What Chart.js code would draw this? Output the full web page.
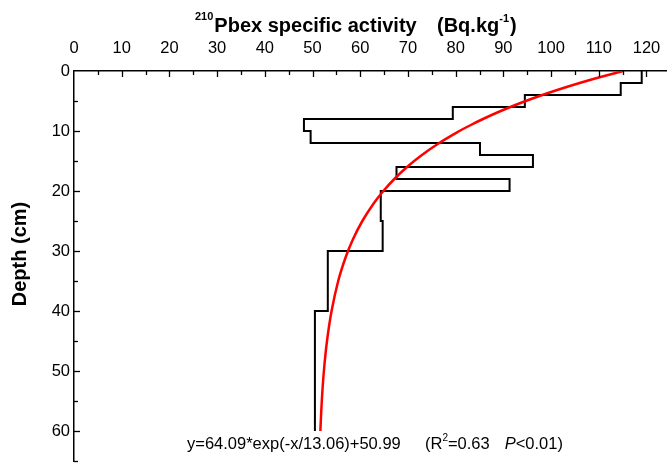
<!DOCTYPE html>
<html>
<head>
<meta charset="utf-8">
<script src="https://cdn.jsdelivr.net/npm/chart.js@4.4.1/dist/chart.umd.min.js"></script>
<style>
html, body { margin: 0; padding: 0; background: #fff; }
#wrap { width: 667px; height: 466px; }
</style>
</head>
<body>
<div id="wrap"><canvas id="chart" width="667" height="466"></canvas></div>
<script>
// layer boundaries (cm) and measured activity of each layer (Bq/kg)
const layerDepths = [0, 2, 4, 6, 8, 10, 12, 14, 16, 18, 20, 25, 30, 40, 60];
const layerActivity = [119.0, 114.6, 94.5, 79.4, 48.2, 49.6, 85.1, 96.2, 67.6, 91.3, 64.3, 64.7, 53.2, 50.5];

// fitted curve, points
const fitDepths = [0, 1, 2, 3, 4, 5, 6, 7, 8, 9, 10, 12, 14, 16, 18, 20, 22, 25, 28, 31, 35, 40, 45, 50, 55, 60];
const fitActivity = [115.08, 110.36, 105.98, 101.93, 98.17, 94.69, 91.47, 88.49, 85.73, 83.17, 80.79, 76.56, 72.93,
    69.81, 67.14, 64.85, 62.88, 60.44, 58.50, 56.96, 55.38, 53.99, 53.03, 52.38, 51.94, 51.64];

// labelled ticks
const xTickLabels = [0, 10, 20, 30, 40, 50, 60, 70, 80, 90, 100, 110, 120];
const yTickLabels = [0, 10, 20, 30, 40, 50, 60];

const FONT = "'Liberation Sans', Arial, sans-serif";

// step profile: each layer is a vertical segment from its top to its bottom
const stepPoints = [];
layerActivity.forEach((v, i) => {
    stepPoints.push({x: v, y: layerDepths[i]});
    stepPoints.push({x: v, y: layerDepths[i + 1]});
});
const fitPoints = fitDepths.map((d, i) => ({x: fitActivity[i], y: d}));

// tick marks point into the plot, long for labelled ones
const innerTicks = {
    id: 'innerTicks',
    afterDraw(chart) {
        const {ctx, chartArea, scales: {x, y}} = chart;
        ctx.save();
        ctx.strokeStyle = '#000';
        ctx.lineWidth = 1.3;
        x.ticks.forEach(t => {
            if (t.value === 0) return;
            const px = Math.round(x.getPixelForValue(t.value)) + 0.5;
            const len = xTickLabels.includes(t.value) ? 6 : 4;
            ctx.beginPath();
            ctx.moveTo(px, chartArea.top);
            ctx.lineTo(px, chartArea.top + len);
            ctx.stroke();
        });
        y.ticks.forEach(t => {
            if (t.value === 0) return;
            const py = Math.round(y.getPixelForValue(t.value)) + 0.5;
            const len = yTickLabels.includes(t.value) ? 6 : 4;
            ctx.beginPath();
            ctx.moveTo(chartArea.left, py);
            ctx.lineTo(chartArea.left + len, py);
            ctx.stroke();
        });
        ctx.restore();
    }
};

// axis titles and fit equation (with superscripts)
const texts = {
    id: 'texts',
    afterDraw(chart) {
        const ctx = chart.ctx;
        ctx.save();
        ctx.fillStyle = '#000';
        ctx.textBaseline = 'alphabetic';
        ctx.textAlign = 'left';

        // top title
        let x = 195;
        ctx.font = 'bold 11px ' + FONT;
        ctx.fillText('210', x, 20);
        x += ctx.measureText('210').width + 1;
        ctx.font = 'bold 20px ' + FONT;
        ctx.fillText('Pbex specific activity', x, 31.5);
        x = 437;
        ctx.fillText('(Bq.kg', x, 31.5);
        x += ctx.measureText('(Bq.kg').width;
        ctx.font = 'bold 11px ' + FONT;
        ctx.fillText('-1', x, 22);
        x += ctx.measureText('-1').width + 1;
        ctx.font = 'bold 20px ' + FONT;
        ctx.fillText(')', x, 31.5);

        // y title
        ctx.save();
        ctx.translate(26, 254);
        ctx.rotate(-Math.PI / 2);
        ctx.textAlign = 'center';
        ctx.font = 'bold 20px ' + FONT;
        ctx.fillText('Depth (cm)', 0, 0);
        ctx.restore();

        // equation
        x = 187;
        const base = 449;
        ctx.font = '16.5px ' + FONT;
        ctx.fillText('y=64.09*exp(-x/13.06)+50.99', x, base);
        x = 425;
        ctx.fillText('(R', x, base);
        x += ctx.measureText('(R').width;
        ctx.font = '10px ' + FONT;
        ctx.fillText('2', x, base - 8);
        x += ctx.measureText('2').width;
        ctx.font = '16.5px ' + FONT;
        ctx.fillText('=0.63', x, base);
        x += ctx.measureText('=0.63').width + 15;
        ctx.font = 'italic 16.5px ' + FONT;
        ctx.fillText('P', x, base);
        x += ctx.measureText('P').width;
        ctx.font = '16.5px ' + FONT;
        ctx.fillText('<0.01)', x, base);
        ctx.restore();
    }
};

new Chart(document.getElementById('chart'), {
    type: 'scatter',
    data: {
        datasets: [{
            label: 'fit',
            data: fitPoints,
            showLine: true,
            borderColor: '#ff0000',
            borderWidth: 2.5,
            pointRadius: 0,
            tension: 0.4,
            order: 0
        }, {
            label: 'profile',
            data: stepPoints,
            showLine: true,
            borderColor: '#000',
            borderWidth: 2,
            pointRadius: 0,
            tension: 0,
            order: 1
        }]
    },
    options: {
        responsive: false,
        animation: false,
        devicePixelRatio: 1,
        layout: {padding: {left: 0, right: 0, top: 0, bottom: 5}},
        plugins: {
            legend: {display: false},
            tooltip: {enabled: false}
        },
        scales: {
            x: {
                type: 'linear',
                position: 'top',
                min: 0,
                max: 124.3,
                afterFit: s => {
                    s.height = 71;
                    s.paddingLeft = 0;
                    s.paddingRight = 0;
                },
                grid: {display: true, drawOnChartArea: false, drawTicks: false},
                border: {display: true, color: '#000', width: 1.5},
                ticks: {
                    stepSize: 5,
                    includeBounds: false,
                    padding: 13,
                    color: '#000',
                    maxRotation: 0,
                    autoSkip: false,
                    font: {family: FONT, size: 16.5},
                    callback: v => xTickLabels.includes(v) ? String(v) : ''
                }
            },
            y: {
                type: 'linear',
                reverse: true,
                min: 0,
                max: 65,
                afterFit: s => {
                    s.width = 74;
                    s.paddingTop = 0;
                    s.paddingBottom = 0;
                },
                grid: {display: true, drawOnChartArea: false, drawTicks: false},
                border: {display: true, color: '#000', width: 1.5},
                ticks: {
                    stepSize: 5,
                    padding: 4,
                    color: '#000',
                    autoSkip: false,
                    font: {family: FONT, size: 16.5},
                    callback: v => yTickLabels.includes(v) ? String(v) : ''
                }
            }
        }
    },
    plugins: [innerTicks, texts]
});
</script>
</body>
</html>
